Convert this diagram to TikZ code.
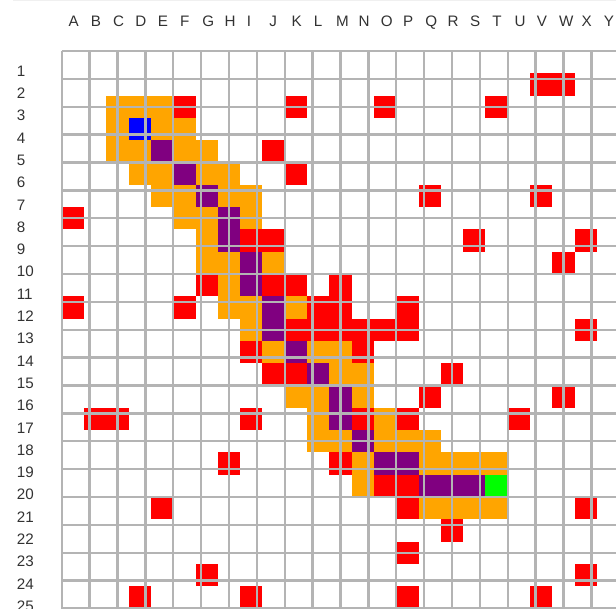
\documentclass[tikz,border=0pt]{standalone}
\usepackage{fontspec}
\setmainfont{Liberation Sans}
\usepackage{tikz}
\usetikzlibrary{positioning}
\definecolor{gridline}{RGB}{180,180,180}
\definecolor{labeltext}{RGB}{50,50,50}
\definecolor{wallred}{RGB}{255,0,0}
\definecolor{seenorange}{RGB}{255,165,0}
\definecolor{routepurple}{RGB}{128,0,128}
\definecolor{startblue}{RGB}{0,0,255}
\definecolor{goalgreen}{RGB}{0,255,0}

\begin{document}
\begin{tikzpicture}[x=0.8cm, y=0.8cm,
    lbl/.style={anchor=base west, inner sep=0pt, font=\fontsize{15.5}{18}\selectfont, text=labeltext},
    wall/.style={fill=wallred},
    seen/.style={fill=seenorange},
    route/.style={fill=routepurple},
    grd/.style={draw=gridline, line width=2.4pt}
  ]
    \useasboundingbox (-2.767,2.287) rectangle (24.856,-25.022);
    \clip (-2.767,2.287) rectangle (24.856,-25.022);
    \draw[gray!12, line width=1pt] (-2.18,2.26) -- (24.856,2.26);
    % cells
    \foreach \c/\r in {21/2,22/2, 5/3,10/3,14/3,19/3, 9/5, 10/6, 16/7,21/7, 0/8,
        8/9,9/9,18/9,23/9, 22/10, 6/11,9/11,10/11,12/11, 0/12,5/12,11/12,12/12,15/12,
        10/13,11/13,12/13,13/13,14/13,15/13,23/13, 8/14,13/14, 9/15,10/15,17/15,
        16/16,22/16, 1/17,2/17,8/17,13/17,15/17,20/17, 7/19,12/19, 14/20,15/20,
        4/21,15/21,23/21, 17/22, 15/23, 6/24,23/24, 3/25,8/25,15/25,21/25}
      \fill[wall] (\c,1-\r) rectangle ++(1,-1);
    \foreach \c/\r in {2/3,3/3,4/3, 2/4,4/4,5/4, 2/5,3/5,5/5,6/5, 3/6,4/6,6/6,7/6,
        4/7,5/7,7/7,8/7, 5/8,6/8,8/8, 6/9, 6/10,7/10,9/10, 7/11, 7/12,8/12,10/12,
        8/13, 9/14,11/14,12/14, 12/15,13/15, 10/16,11/16,13/16, 11/17,14/17,
        11/18,12/18,14/18,15/18,16/18, 13/19,16/19,17/19,18/19,19/19, 13/20,
        16/21,17/21,18/21,19/21}
      \fill[seen] (\c,1-\r) rectangle ++(1,-1);
    \foreach \c/\r in {4/5,5/6,6/7,7/8,7/9,8/10,8/11,9/12,9/13,10/14,11/15,12/16,
        12/17,13/18,14/19,15/19,16/20,17/20,18/20}
      \fill[route] (\c,1-\r) rectangle ++(1,-1);
    \fill[startblue] (3,-3) rectangle ++(1,-1);
    \fill[goalgreen] (19,-19) rectangle ++(1,-1);
    \draw[grd] (0,0) grid (25,-25);
    % labels
    \foreach \l [count=\i from 0] in {A,...,Y}
      \node[lbl] (col-\l) at (\i+0.3,1.12) {\l};
    \foreach \r in {1,...,25}
      \node[lbl] (row-\r) at (-2.02,-\r-0.13) {\r};
\end{tikzpicture}
\end{document}
